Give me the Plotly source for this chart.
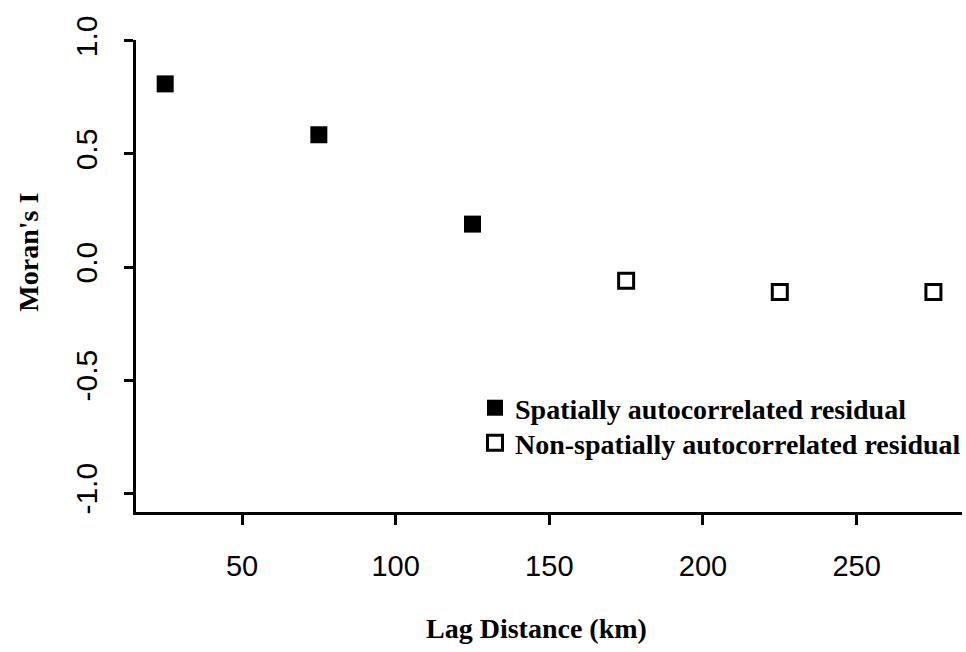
import plotly.graph_objects as go

lag_spatial = [25, 75, 125]
moran_spatial = [0.81, 0.585, 0.19]
lag_nonspatial = [175, 225, 275]
moran_nonspatial = [-0.06, -0.11, -0.11]
x_ticks = [50, 100, 150, 200, 250]
y_ticks = [-1.0, -0.5, 0.0, 0.5, 1.0]
y_ticklabels = ["-1.0", "-0.5", "0.0", "0.5", "1.0"]

serif = dict(family="Liberation Serif", size=28, color="black", weight="bold")

fig = go.Figure()
fig.add_trace(go.Scatter(
    x=lag_spatial, y=moran_spatial, mode="markers",
    name="Spatially autocorrelated residual", legend="legend",
    marker=dict(symbol="square", size=17, color="black", line=dict(width=0)),
))
fig.add_trace(go.Scatter(
    x=lag_nonspatial, y=moran_nonspatial, mode="markers",
    name="Non-spatially autocorrelated residual", legend="legend2",
    marker=dict(symbol="square-open", size=15, color="black", line=dict(width=3, color="black")),
))

legend_common = dict(xref="container", yref="container", xanchor="left", yanchor="middle",
                     font=serif, bgcolor="rgba(0,0,0,0)", itemwidth=30)

fig.update_layout(
    width=966, height=652,
    margin=dict(l=136, r=4, t=40, b=140, autoexpand=False),
    paper_bgcolor="white", plot_bgcolor="white",
    showlegend=True,
    legend=dict(x=0.4917, y=0.3742, **legend_common),
    legend2=dict(x=0.4917, y=0.3206, **legend_common),
    xaxis=dict(
        range=[15.5, 284.3], tickvals=x_ticks,
        showline=True, linecolor="black", linewidth=3,
        ticks="outside", ticklen=10, tickwidth=2.5, tickcolor="black",
        showgrid=False, zeroline=False,
        tickfont=dict(family="Liberation Sans", size=29, color="black"),
        ticklabelstandoff=16,
    ),
    yaxis=dict(
        range=[-1.083, 1.004], tickvals=y_ticks, ticktext=y_ticklabels,
        showline=True, linecolor="black", linewidth=3,
        ticks="outside", ticklen=9, tickwidth=2.5, tickcolor="black",
        showgrid=False, zeroline=False, tickangle=-90,
        tickfont=dict(family="Liberation Sans", size=30, color="black"),
        ticklabelstandoff=15,
    ),
    annotations=[
        dict(text="Lag Distance (km)", xref="paper", yref="paper",
             x=0.4843, y=-0.2471, xanchor="center", yanchor="middle",
             showarrow=False, font=dict(family="Liberation Serif", size=28, color="black", weight="bold")),
        dict(text="Moran's I", xref="paper", yref="paper",
             x=-0.1312, y=0.5508, xanchor="center", yanchor="middle", textangle=-90,
             showarrow=False, font=dict(family="Liberation Serif", size=28, color="black", weight="bold")),
    ],
)

fig.write_html("out.html")
